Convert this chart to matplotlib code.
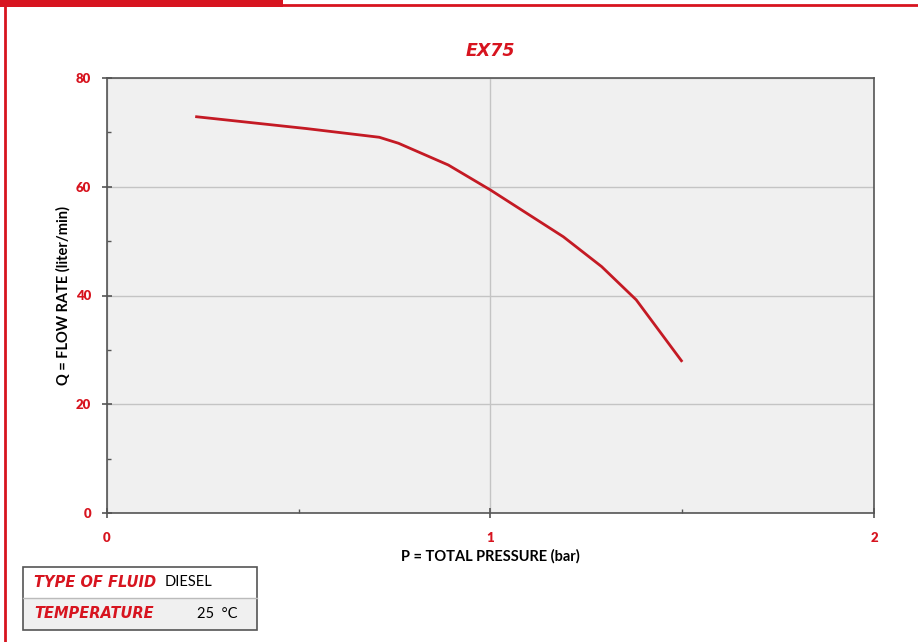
import matplotlib.pyplot as plt
import matplotlib.patches as patches
from matplotlib.ticker import MultipleLocator

# curve
pressure = [0.23, 0.52, 0.71, 0.76, 0.89, 1.00, 1.19, 1.29, 1.38, 1.50]
flow = [72.9, 70.7, 69.1, 68.0, 64.0, 59.4, 50.8, 45.3, 39.2, 27.8]

x_ticks = [0, 1, 2]
y_ticks = [0, 20, 40, 60, 80]

RED = '#d7141f'
LINE_RED = '#c41a24'

plt.rcParams['font.family'] = ['Lato', 'DejaVu Sans']

fig = plt.figure(figsize=(9.18, 6.42), dpi=100)

# page decorations: red bar on top, red rule on left
fig.add_artist(patches.Rectangle((0, 1 - 7 / 642), 283 / 918, 7 / 642,
                                 transform=fig.transFigure, color=RED, lw=0))
fig.add_artist(plt.Line2D([283 / 918, 1], [1 - 4.5 / 642] * 2,
                          transform=fig.transFigure, color=RED, lw=2))
fig.add_artist(plt.Line2D([4.5 / 918] * 2, [0, 1],
                          transform=fig.transFigure, color=RED, lw=2))

ax = fig.add_axes([107 / 918, 1 - 513 / 642, (874 - 107) / 918, (513 - 78) / 642])
ax.set_facecolor('#f0f0f0')
ax.plot(pressure, flow, color=LINE_RED, lw=2, solid_capstyle='butt')

ax.set_xlim(0, 2)
ax.set_ylim(0, 80)
ax.set_xticks(x_ticks)
ax.set_yticks(y_ticks)
ax.xaxis.set_minor_locator(MultipleLocator(0.5))
ax.yaxis.set_minor_locator(MultipleLocator(10))
ax.grid(True, which='major', color='#c4c4c4', lw=1)
ax.set_axisbelow(True)

for side in ['top', 'right', 'bottom', 'left']:
    ax.spines[side].set_color('#555555')
    ax.spines[side].set_linewidth(1.2)

ax.tick_params(which='major', direction='inout', length=7, width=1.2, color='#555555',
               labelcolor=RED, labelsize=9.5)
ax.tick_params(which='minor', direction='in', length=3, width=1, color='#555555')
ax.tick_params(axis='y', pad=8)
ax.tick_params(axis='x', pad=10)
for lbl in ax.get_xticklabels() + ax.get_yticklabels():
    lbl.set_fontweight('heavy')

ax.set_title('EX75', color=RED, fontsize=12.5, fontweight='bold', style='italic', pad=16,
             family='DejaVu Sans')
ax.set_xlabel('P = TOTAL PRESSURE (bar)', fontsize=10.5, fontweight='bold', labelpad=4)
ax.set_ylabel('Q = FLOW RATE (liter/min)', fontsize=10.5, fontweight='bold', labelpad=4)

# fluid info box
x0, x1 = 23 / 918, 257 / 918
ytop, ymid, ybot = 1 - 567 / 642, 1 - 598 / 642, 1 - 630 / 642
fig.add_artist(patches.Rectangle((x0, ybot), x1 - x0, ymid - ybot,
                                 transform=fig.transFigure, facecolor='#f0f0f0',
                                 edgecolor='none'))
fig.add_artist(patches.Rectangle((x0, ybot), x1 - x0, ytop - ybot,
                                 transform=fig.transFigure, facecolor='none',
                                 edgecolor='#555555', lw=1.2))
fig.add_artist(plt.Line2D([x0, x1], [ymid, ymid], transform=fig.transFigure,
                          color='#bbbbbb', lw=1))
fig.text(34 / 918, (ytop + ymid) / 2, 'TYPE OF FLUID', color=RED, fontsize=10.5,
         fontweight='bold', style='italic', va='center', family='DejaVu Sans')
fig.text(165 / 918, (ytop + ymid) / 2, 'DIESEL', color='black', fontsize=10.5, va='center')
fig.text(34 / 918, (ymid + ybot) / 2, 'TEMPERATURE', color=RED, fontsize=10.5,
         fontweight='bold', style='italic', va='center', family='DejaVu Sans')
fig.text(197 / 918, (ymid + ybot) / 2, '25  °C', color='black', fontsize=10.5, va='center')

fig.savefig('out.png', dpi=100)
